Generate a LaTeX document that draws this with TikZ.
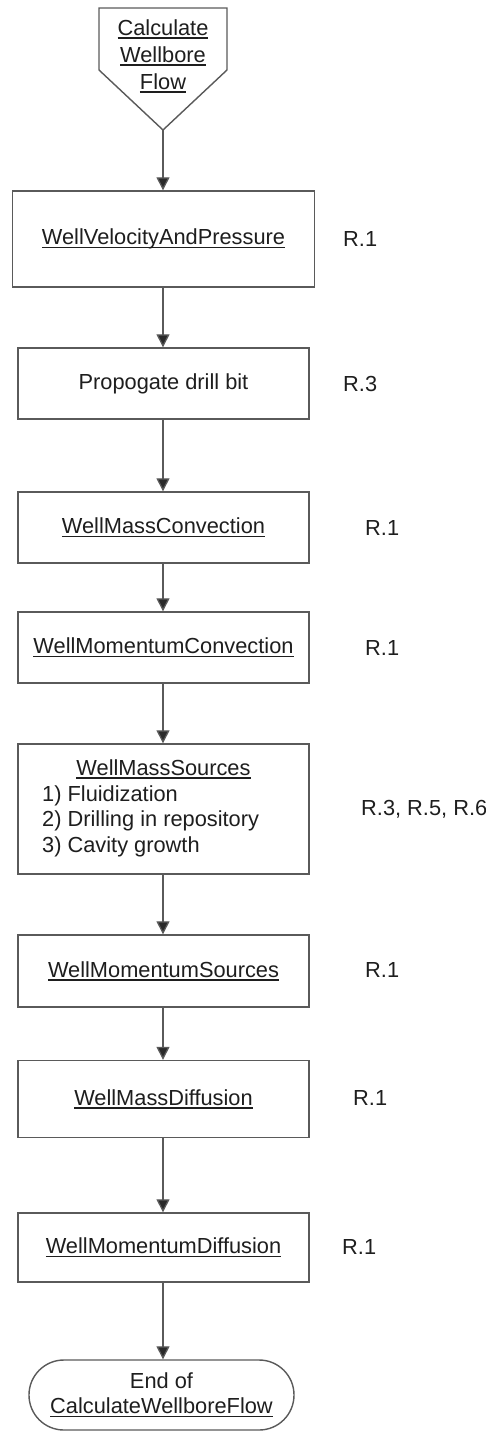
\documentclass[tikz,border=0pt]{standalone}
\usepackage{fontspec}
\setmainfont{Liberation Sans}
\usetikzlibrary{arrows.meta}
\definecolor{lineclr}{HTML}{5A5A5A}
\definecolor{txtclr}{HTML}{1E1E1E}
% underline at a fixed depth below the baseline
\newcommand{\ulx}[1]{\leavevmode\setbox0=\hbox{#1}\rlap{\rule[-3.6pt]{\wd0}{1.4pt}}\box0}
\tikzset{
  txt/.style={text=txtclr, font=\fontsize{21.8}{26}\selectfont, inner sep=0pt},
  procbox/.style={draw=lineclr, line width=1.4pt, fill=white, minimum width=291pt, txt},
  flow/.style={draw=lineclr, line width=1.3pt, -{Triangle[length=13pt,width=13pt,fill=txtclr!80!lineclr]}},
  reflabel/.style={txt, anchor=west},
}
\begin{document}
\begin{tikzpicture}[x=1pt,y=-1pt]
\useasboundingbox (0,0) rectangle (486,1432);

% off-page entry connector
\draw[draw=lineclr, line width=1.4pt, fill=white]
  (99,8) -- (227,8) -- (227,70) -- (163,130) -- (99,70) -- cycle;
\coordinate (starttip) at (163,130);
\node[txt, align=center, font=\fontsize{21.8}{27}\selectfont] (start) at (163,56)
  {\ulx{Calculate}\\\ulx{Wellbore}\\\ulx{Flow}};

% process steps
\node[procbox, minimum width=302pt, minimum height=96pt] (b1) at (163.5,239) {\ulx{WellVelocityAndPressure}};
\node[procbox, minimum height=71pt] (b2) at (163.5,383.5) {Propogate drill bit};
\node[procbox, minimum height=71pt] (b3) at (163.5,527.5) {\ulx{WellMassConvection}};
\node[procbox, minimum height=71pt] (b4) at (163.5,647.5) {\ulx{WellMomentumConvection}};
\node[procbox, minimum height=130pt] (b5) at (163.5,809) {};
\node[txt] (b5title) at (163.5,769) {\ulx{WellMassSources}};
\node[txt, anchor=west, align=left, font=\fontsize{21.8}{25.5}\selectfont] (b5list) at (42,821)
  {1) Fluidization\\2) Drilling in repository\\3) Cavity growth};
\node[procbox, minimum height=72pt] (b6) at (163.5,971) {\ulx{WellMomentumSources}};
\node[procbox, minimum height=77pt] (b7) at (163.5,1099) {\ulx{WellMassDiffusion}};
\node[procbox, minimum height=69pt] (b8) at (163.5,1247.5) {\ulx{WellMomentumDiffusion}};

% terminator
\node[draw=lineclr, line width=1.4pt, rounded corners=34.9pt, minimum width=265pt,
      minimum height=70pt, txt, align=center, font=\fontsize{21.8}{25}\selectfont] (stop) at (161.5,1395)
  {End of\\\ulx{CalculateWellboreFlow}};

% requirement references
\node[reflabel] (r1) at (343,239) {R.1};
\node[reflabel] (r2) at (343,383.5) {R.3};
\node[reflabel] (r3) at (365,527.5) {R.1};
\node[reflabel] (r4) at (365,647.5) {R.1};
\node[reflabel] (r5) at (361,809) {R.3, R.5, R.6};
\node[reflabel] (r6) at (365,970) {R.1};
\node[reflabel] (r7) at (353,1098) {R.1};
\node[reflabel] (r8) at (342,1247) {R.1};

% flow connectors
\draw[flow] (starttip) -- (starttip |- b1.north);
\draw[flow] (b1.south -| starttip) -- (b2.north -| starttip);
\draw[flow] (b2.south -| starttip) -- (b3.north -| starttip);
\draw[flow] (b3.south -| starttip) -- (b4.north -| starttip);
\draw[flow] (b4.south -| starttip) -- (b5.north -| starttip);
\draw[flow] (b5.south -| starttip) -- (b6.north -| starttip);
\draw[flow] (b6.south -| starttip) -- (b7.north -| starttip);
\draw[flow] (b7.south -| starttip) -- (b8.north -| starttip);
\draw[flow] (b8.south -| starttip) -- (stop.north -| starttip);
\end{tikzpicture}
\end{document}
